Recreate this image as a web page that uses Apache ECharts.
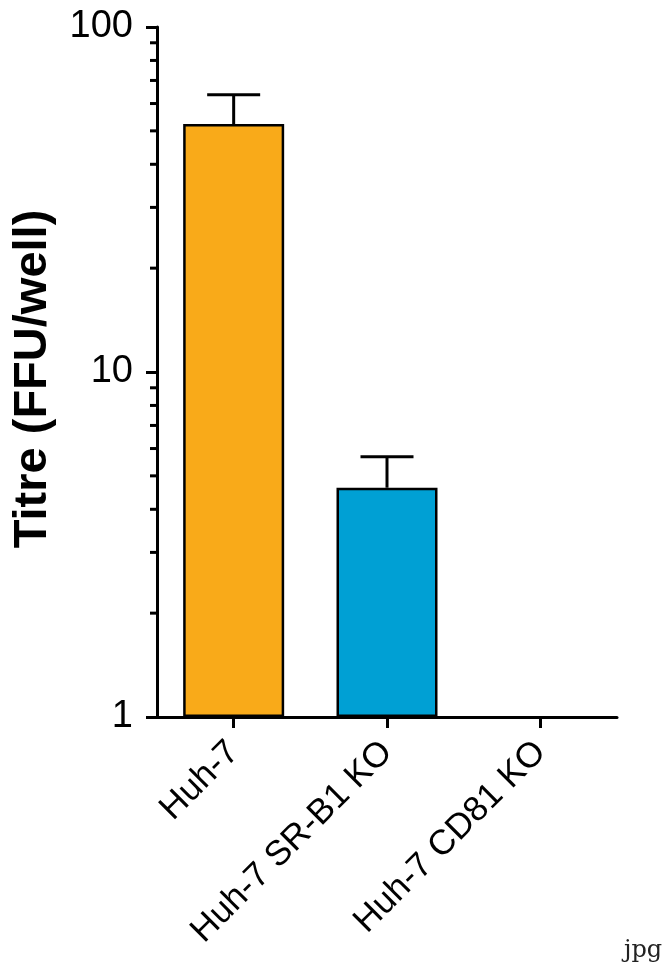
<!DOCTYPE html>
<html>
<head>
<meta charset="utf-8">
<script src="https://cdn.jsdelivr.net/npm/echarts@6/dist/echarts.min.js"></script>
<style>
html,body{margin:0;padding:0;background:#fff;}
#chart{width:665px;height:967px;}
</style>
</head>
<body>
<div id="chart"></div>
<script>
var categories = ['Huh-7', 'Huh-7 SR-B1 KO', 'Huh-7 CD81 KO'];
var means = [52.3, 4.62, null];
var upperErr = [63.6, 5.68, null];
var barColors = ['#F9AA19', '#00A0D4', '#888888'];
var majorTicks = [1, 10, 100];
var minorTicks = [2, 3, 4, 5, 6, 7, 8, 9, 20, 30, 40, 50, 60, 70, 80, 90];
var yTitle = 'Titre (FFU/well)';
var cornerNote = 'jpg';

var chart = echarts.init(document.getElementById('chart'), null, {renderer: 'canvas'});

var barData = means.map(function (v, i) {
  return {value: v, itemStyle: {color: barColors[i]}};
});
var errData = [];
means.forEach(function (v, i) {
  if (v != null && upperErr[i] != null) errData.push([i, v, upperErr[i]]);
});
var minorData = minorTicks.map(function (v) { return [0, v]; });

var option = {
  backgroundColor: '#fff',
  animation: false,
  grid: {left: 157, right: 48, top: 27, bottom: 250, containLabel: false, outerBoundsMode: 'none'},
  graphic: [{
    type: 'text', left: 624, top: 939,
    style: {text: cornerNote, font: '24px "DejaVu Serif", "Liberation Serif", serif', fill: '#222'}
  }],
  xAxis: {
    type: 'category',
    data: categories,
    axisLine: {lineStyle: {color: '#000', width: 3}},
    axisTick: {show: true, alignWithLabel: true, length: 11, lineStyle: {color: '#000', width: 3}},
    axisLabel: {
      rotate: 45, margin: 30, color: '#000', interval: 0,
      fontFamily: 'Liberation Sans, Arial, sans-serif', fontSize: 35
    }
  },
  yAxis: {
    type: 'log',
    logBase: 10,
    min: 1,
    max: 100,
    name: yTitle,
    nameLocation: 'middle',
    nameGap: 100,
    nameRotate: 90,
    nameTextStyle: {fontFamily: 'Liberation Sans, Arial, sans-serif', fontSize: 47, fontWeight: 'bold', color: '#000', padding: [0, 14, 0, 0]},
    axisLine: {show: true, lineStyle: {color: '#000', width: 3}},
    axisTick: {show: true, length: 11, lineStyle: {color: '#000', width: 3}},
    splitLine: {show: false},
    axisLabel: {
      margin: 24, color: '#000',
      fontFamily: 'Liberation Sans, Arial, sans-serif', fontSize: 38,
      formatter: function (v) { return majorTicks.indexOf(Math.round(v)) >= 0 ? String(Math.round(v)) : ''; }
    }
  },
  series: [
    {
      type: 'bar',
      data: barData,
      barWidth: 101,
      itemStyle: {borderColor: '#000', borderWidth: 2.5},
      z: 2
    },
    {
      type: 'custom',
      data: errData,
      clip: false,
      z: 1,
      renderItem: function (params, api) {
        var x = api.value(0);
        var base = api.coord([x, api.value(1)]);
        var top = api.coord([x, api.value(2)]);
        var half = 26.5;
        return {
          type: 'group',
          children: [
            {type: 'line', shape: {x1: base[0], y1: base[1], x2: top[0], y2: top[1]}, style: {stroke: '#000', lineWidth: 3}},
            {type: 'line', shape: {x1: top[0] - half, y1: top[1], x2: top[0] + half, y2: top[1]}, style: {stroke: '#000', lineWidth: 3}}
          ]
        };
      }
    },
    {
      type: 'custom',
      data: minorData,
      clip: false,
      z: 3,
      renderItem: function (params, api) {
        var p = api.coord([api.value(0), api.value(1)]);
        var ax = params.coordSys.x;
        return {
          type: 'line',
          shape: {x1: ax - 7, y1: p[1], x2: ax, y2: p[1]},
          style: {stroke: '#000', lineWidth: 3}
        };
      }
    }
  ]
};
chart.setOption(option);
</script>
</body>
</html>
